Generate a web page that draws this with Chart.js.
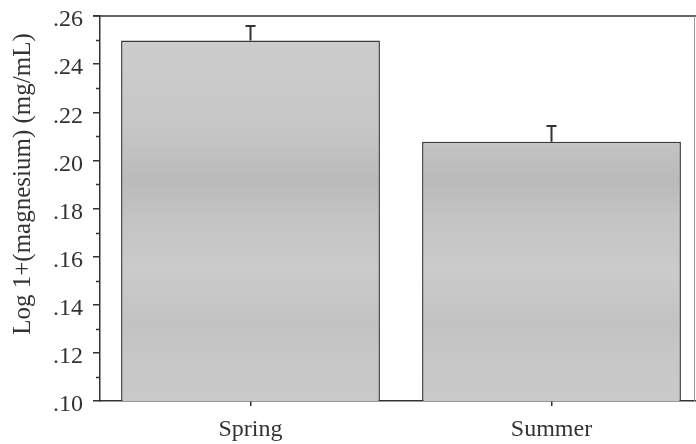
<!DOCTYPE html>
<html>
<head>
<meta charset="utf-8">
<script src="https://cdn.jsdelivr.net/npm/chart.js@4/dist/chart.umd.min.js"></script>
<style>
  html, body { margin: 0; padding: 0; background: #fff; overflow: hidden; }
  #wrap { width: 696px; height: 444px; overflow: hidden; }
  #c { display: block; }
</style>
</head>
<body>
<div id="wrap"><canvas id="c" width="704" height="444"></canvas></div>
<script>
// Seasonal magnesium levels, log-transformed, mean + SE
const seasons = ['Spring', 'Summer'];
const meanLogMg = [0.2498, 0.2077];
const seLogMg = [0.0060, 0.0066];
const yMajorTicks = [0.10, 0.12, 0.14, 0.16, 0.18, 0.20, 0.22, 0.24, 0.26];
const yMinorTicks = [0.11, 0.13, 0.15, 0.17, 0.19, 0.21, 0.23, 0.25];
const yTitle = 'Log 1+(magnesium) (mg/mL)';

const ink = '#333333';
const serif = "'Liberation Serif', 'DejaVu Serif', serif";

// soft horizontal banding in the bar fill
function barFill(ctx) {
  const ca = ctx.chart.chartArea;
  if (!ca) return '#c9c9c9';
  const g = ctx.chart.ctx.createLinearGradient(0, ca.top, 0, ca.bottom);
  g.addColorStop(0.00, '#cdcdcd');
  g.addColorStop(0.15, '#cbcbcb');
  g.addColorStop(0.30, '#c6c6c6');
  g.addColorStop(0.43, '#bababa');
  g.addColorStop(0.52, '#c3c3c3');
  g.addColorStop(0.66, '#cbcbcb');
  g.addColorStop(0.80, '#c2c2c2');
  g.addColorStop(0.90, '#c8c8c8');
  g.addColorStop(1.00, '#c9c9c9');
  return g;
}

const decorations = {
  id: 'decorations',
  afterDatasetsDraw(chart) {
    const { ctx, scales: { y }, chartArea } = chart;
    ctx.save();
    // error bars (upper side only)
    const meta = chart.getDatasetMeta(0);
    ctx.strokeStyle = ink;
    ctx.lineWidth = 2;
    meta.data.forEach((bar, i) => {
      const yTop = y.getPixelForValue(meanLogMg[i] + seLogMg[i]);
      ctx.beginPath();
      ctx.moveTo(bar.x, bar.y);
      ctx.lineTo(bar.x, yTop);
      ctx.moveTo(bar.x - 5, yTop);
      ctx.lineTo(bar.x + 5, yTop);
      ctx.stroke();
    });
    // minor ticks on the value axis
    ctx.lineWidth = 1.5;
    yMinorTicks.forEach(v => {
      const py = Math.round(y.getPixelForValue(v)) + 0.5;
      ctx.beginPath();
      ctx.moveTo(chartArea.left - 4, py);
      ctx.lineTo(chartArea.left, py);
      ctx.stroke();
    });
    // frame: top and right
    ctx.lineWidth = 1.5;
    ctx.beginPath();
    ctx.moveTo(chartArea.left - 7, chartArea.top);
    ctx.lineTo(704, chartArea.top);
    ctx.stroke();
    ctx.strokeStyle = '#999';
    ctx.lineWidth = 1;
    ctx.beginPath();
    ctx.moveTo(694.5, chartArea.top);
    ctx.lineTo(694.5, chartArea.bottom);
    ctx.stroke();
    // rotated axis title
    ctx.fillStyle = ink;
    ctx.font = '25px ' + serif;
    ctx.textAlign = 'center';
    ctx.textBaseline = 'middle';
    ctx.translate(23, 184);
    ctx.rotate(-Math.PI / 2);
    ctx.fillText(yTitle, 0, 0);
    ctx.restore();
  }
};

function draw() {
  new Chart(document.getElementById('c'), {
    type: 'bar',
    data: {
      labels: seasons,
      datasets: [{
        data: meanLogMg,
        backgroundColor: barFill,
        borderColor: '#3a3a3a',
        borderWidth: 1.5,
        borderSkipped: false,
        categoryPercentage: 1,
        barPercentage: 0.86
      }]
    },
    options: {
      responsive: false,
      animation: false,
      devicePixelRatio: 1,
      layout: { padding: { top: 16, right: 2, bottom: 0, left: 0 } },
      plugins: { legend: { display: false }, tooltip: { enabled: false } },
      scales: {
        x: {
          offset: true,
          grid: { offset: false, drawOnChartArea: false, drawTicks: true, tickLength: 5, color: ink, lineWidth: 1.5 },
          border: { color: ink, width: 1.5 },
          ticks: { color: ink, font: { family: serif, size: 24 }, padding: 9 },
          afterFit(s) { s.height = 43; s.paddingLeft = 0; s.paddingRight = 0; }
        },
        y: {
          min: 0.10,
          max: 0.26,
          afterBuildTicks(s) { s.ticks = yMajorTicks.map(v => ({ value: v })); },
          grid: { drawOnChartArea: false, drawTicks: true, tickLength: 7, color: ink, lineWidth: 1.5 },
          border: { color: ink, width: 1.5 },
          ticks: {
            color: ink,
            font: { family: serif, size: 24 },
            padding: 10,
            labelOffset: 4,
            callback: v => v.toFixed(2).replace(/^0/, '')
          },
          afterFit(s) { s.width = 100; s.paddingTop = 0; s.paddingBottom = 0; }
        }
      }
    },
    plugins: [decorations]
  });
}

if (document.fonts && document.fonts.load) {
  Promise.all([
    document.fonts.load('24px "Liberation Serif"'),
    document.fonts.load('25px "Liberation Serif"')
  ]).then(draw, draw);
} else {
  draw();
}
</script>
</body>
</html>
